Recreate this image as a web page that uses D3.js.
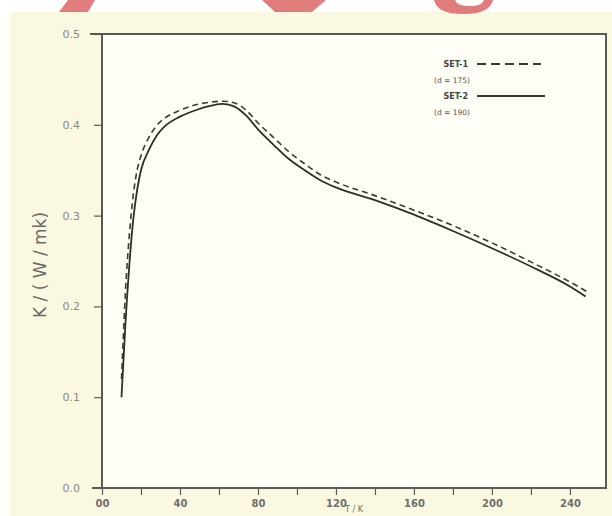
<!DOCTYPE html>
<html>
<head>
<meta charset="utf-8">
<script src="https://cdn.jsdelivr.net/npm/d3@7"></script>
<style>
  body { margin: 0; background: #ffffff; }
  svg { display: block; }
  text { font-family: "DejaVu Sans", sans-serif; }
</style>
</head>
<body>
<svg width="612" height="516"></svg>
<script>
// thermal conductivity vs temperature, two sample sets
var set1T = [10, 11, 12, 14, 16, 18, 20, 24, 28, 32, 40, 48, 56, 62, 68, 74, 80, 88, 96, 104, 112, 120, 140, 160, 180, 200, 220, 240, 249];
var set1K = [0.12, 0.17, 0.215, 0.278, 0.322, 0.350, 0.366, 0.386, 0.399, 0.407, 0.416, 0.422, 0.425, 0.426, 0.424, 0.416, 0.402, 0.386, 0.370, 0.357, 0.345, 0.337, 0.322, 0.306, 0.289, 0.270, 0.249, 0.227, 0.216];

var set2T = [10, 11, 12, 14, 16, 18, 20, 24, 28, 32, 40, 48, 56, 62, 68, 74, 80, 88, 96, 104, 112, 120, 140, 160, 180, 200, 220, 240, 248];
var set2K = [0.10, 0.14, 0.18, 0.245, 0.295, 0.328, 0.350, 0.372, 0.388, 0.398, 0.409, 0.416, 0.421, 0.423, 0.420, 0.410, 0.395, 0.378, 0.362, 0.350, 0.339, 0.331, 0.317, 0.301, 0.283, 0.264, 0.244, 0.222, 0.211];

var xTicks = [0, 20, 40, 60, 80, 100, 120, 140, 160, 180, 200, 220, 240];
var xTickLabels = {0: "00", 40: "40", 80: "80", 120: "120", 160: "160", 200: "200", 240: "240"};
var yTicks = [0, 0.1, 0.2, 0.3, 0.4, 0.5];

var legendNames = ["SET-1", "SET-2"];
var legendNotes = ["(d = 175)", "(d = 190)"];

(function () {
    var svg = d3.select("svg"),
        width = 612,
        height = 516;

    // page background (cream) with a white strip at top
    svg.append("rect").attr("x", 10).attr("y", 12).attr("width", width - 10).attr("height", height - 12)
        .attr("fill", "#fbf8e2");

    // red watermark fragments along the top edge
    var red = "#e07d7c";
    svg.append("path").attr("d", "M68,0 L95,0 L88,12 L59,12 Z").attr("fill", red);
    svg.append("path").attr("d", "M262,0 L326,0 L312,12 L275,12 Z").attr("fill", red);
    svg.append("path").attr("d", "M434,0 L493,0 Q490,14 463,14 Q437,14 434,0 Z").attr("fill", red);
    svg.append("path").attr("d", "M455,0 L484,0 Q482,6 470,6 Q457,6 455,0 Z").attr("fill", "#ffffff");

    var pl = 102, pr = 606, pt = 34, pb = 488;

    var x = d3.scaleLinear().domain([0, 258.5]).range([pl, pr]);
    var y = d3.scaleLinear().domain([0, 0.5]).range([pb, pt]);

    // plot interior, a touch lighter
    svg.append("rect").attr("x", pl).attr("y", pt).attr("width", pr - pl).attr("height", pb - pt)
        .attr("fill", "#fffef6");

    var axisColor = "#5a5a55";

    // y axis
    var yAxis = svg.append("g")
        .attr("transform", "translate(" + pl + ",0)")
        .call(d3.axisLeft(y).tickValues(yTicks).tickSize(8).tickPadding(14)
            .tickFormat(function (d) { return d3.format(".1f")(d); }));
    yAxis.select(".domain").remove();
    yAxis.selectAll("line").attr("stroke", axisColor).attr("stroke-width", 1.2);
    yAxis.selectAll("text").attr("fill", "#8a8a82").attr("font-size", 11)
        .attr("font-family", "DejaVu Sans Condensed, sans-serif");

    // x axis
    var xAxis = svg.append("g")
        .attr("transform", "translate(0," + pb + ")")
        .call(d3.axisBottom(x).tickValues(xTicks).tickSize(7).tickPadding(5)
            .tickFormat(function (d) { return xTickLabels[d] || ""; }));
    xAxis.select(".domain").remove();
    xAxis.selectAll("line").attr("stroke", axisColor).attr("stroke-width", 1.2);
    xAxis.selectAll("text").attr("fill", "#6e6e68").attr("font-size", 10).attr("font-weight", "bold")
        .attr("font-family", "DejaVu Sans Condensed, sans-serif");

    // frame
    svg.append("path")
        .attr("d", "M" + (pl - 12) + "," + pt + " L" + pr + "," + pt + " L" + pr + "," + pb +
            " L" + (pl - 10) + "," + pb + " M" + pl + "," + pt + " L" + pl + "," + pb)
        .attr("fill", "none").attr("stroke", axisColor).attr("stroke-width", 2);

    // axis titles
    svg.append("text")
        .attr("transform", "translate(46,265) rotate(-90)")
        .attr("text-anchor", "middle")
        .attr("fill", "#6a6a64")
        .attr("font-size", 17)
        .text("K / ( W / mk)");

    svg.append("text")
        .attr("x", 354).attr("y", 512)
        .attr("text-anchor", "middle")
        .attr("fill", "#6e6e68")
        .attr("font-size", 8)
        .text("T / K");

    // curves
    var line = d3.line()
        .x(function (d) { return x(d[0]); })
        .y(function (d) { return y(d[1]); })
        .curve(d3.curveMonotoneX);

    var set1 = set1T.map(function (t, i) { return [t, set1K[i]]; });
    var set2 = set2T.map(function (t, i) { return [t, set2K[i]]; });

    svg.append("path").datum(set1)
        .attr("d", line)
        .attr("fill", "none").attr("stroke", "#3a3a36").attr("stroke-width", 1.6)
        .attr("stroke-dasharray", "6,4");

    svg.append("path").datum(set2)
        .attr("d", line)
        .attr("fill", "none").attr("stroke", "#2e2e2a").attr("stroke-width", 1.8);

    // legend
    var legend = svg.append("g").attr("class", "legend");
    legendNames.forEach(function (name, i) {
        var ly = 64 + i * 32;
        legend.append("text").attr("x", 468).attr("y", ly + 3).attr("text-anchor", "end")
            .attr("fill", "#444440").attr("font-size", 8).attr("font-weight", "bold")
            .attr("font-family", "DejaVu Sans Condensed, sans-serif").text(name);
        legend.append("text").attr("x", 470).attr("y", ly + 19).attr("text-anchor", "end")
            .attr("fill", "#55554f").attr("font-size", 7.5)
            .attr("font-family", "DejaVu Sans Condensed, sans-serif").text(legendNotes[i]);
        legend.append("line").attr("x1", 477).attr("x2", i === 0 ? 541 : 545)
            .attr("y1", ly).attr("y2", ly)
            .attr("stroke", "#3a3a36").attr("stroke-width", i === 0 ? 1.8 : 2)
            .attr("stroke-dasharray", i === 0 ? "9,5" : null);
    });
})();
</script>
</body>
</html>
